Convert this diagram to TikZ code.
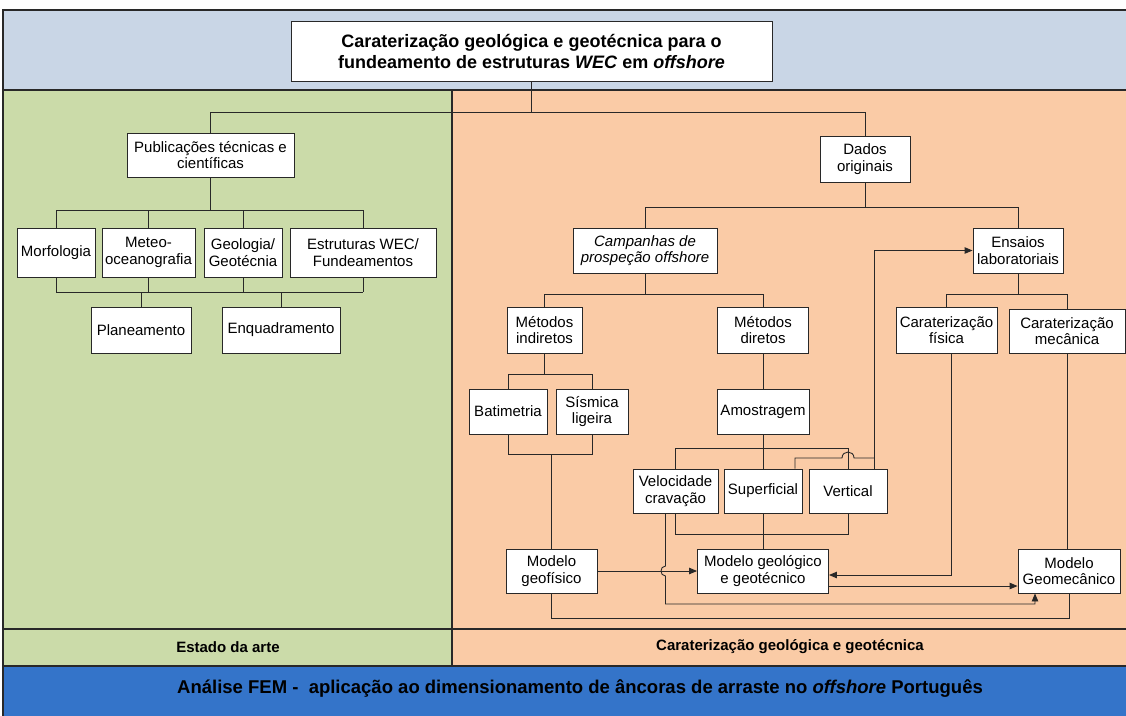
\documentclass[tikz,border=0pt]{standalone}
\usepackage{fontspec}
\setmainfont{Liberation Sans}
\usetikzlibrary{arrows.meta}
\definecolor{topblue}{RGB}{201,214,230}
\definecolor{panelgreen}{RGB}{203,219,169}
\definecolor{panelorange}{RGB}{250,203,166}
\definecolor{botblue}{RGB}{52,116,201}
\definecolor{edge}{RGB}{40,40,40}
\begin{document}
\begin{tikzpicture}[x=1pt,y=-1pt,
  bx/.style={draw=edge,line width=0.9pt,fill=white,align=center,inner sep=0pt,
    font=\fontsize{15}{16.5}\selectfont},
  ln/.style={draw=edge,line width=0.9pt},
  arr/.style={ln,-{Triangle[length=8pt,width=6.5pt]}},
  band/.style={draw=edge,line width=1.2pt}]
\useasboundingbox (0,0) rectangle (1126,715);
% bands
\fill[white] (0,0) rectangle (1126,715);
\draw[band,fill=topblue] (3,10) rectangle (1130,90);
\draw[band,fill=panelgreen] (3,90) rectangle (452,629);
\draw[band,fill=panelorange] (452,90) rectangle (1130,629);
\draw[band,fill=panelgreen] (3,629) rectangle (452,666);
\draw[band,fill=panelorange] (452,629) rectangle (1130,666);
\draw[band,fill=botblue] (3,666) rectangle (1130,720);
\node[font=\fontsize{15}{17}\selectfont\bfseries] (lblA) at (228,647) {Estado da arte};
\node[font=\fontsize{15}{17}\selectfont\bfseries] (lblB) at (790,647) {Caraterização geológica e geotécnica};
\node[font=\fontsize{18.5}{21}\selectfont\bfseries] (lblC) at (580,689) {Análise FEM -\ \ aplicação ao dimensionamento de âncoras de arraste no \textit{offshore} Português};
% level coordinates
\coordinate (yA) at (0,112);
\coordinate (yB) at (0,210);
\coordinate (yC) at (0,292);
\coordinate (yD) at (0,207);
\coordinate (yE) at (0,294);
\coordinate (yF) at (0,374);
\coordinate (yG) at (0,454);
\coordinate (yH) at (0,448);
\coordinate (yI) at (0,458);
\coordinate (yJ) at (0,534);
\coordinate (yK) at (0,604);
\coordinate (yL) at (0,618);
\coordinate (yM) at (0,575);
\coordinate (yN) at (0,586);
% nodes
\node[bx,minimum width=481,minimum height=60,font=\fontsize{18}{21}\selectfont\bfseries] (title) at (531.5,51)
  {Caraterização geológica e geotécnica para o\\fundeamento de estruturas \textit{WEC} em \textit{offshore}};
\node[bx,minimum width=167,minimum height=44] (pub) at (210.5,155) {Publicações técnicas e\\científicas};
\node[bx,minimum width=78,minimum height=49] (morf) at (56,252.5) {Morfologia};
\node[bx,minimum width=93,minimum height=49] (meteo) at (148.5,252.5) {Meteo-\\oceanografia};
\node[bx,minimum width=78,minimum height=49] (geol) at (243,252.5) {Geologia/\\Geotécnia};
\node[bx,minimum width=146,minimum height=49] (estr) at (363,252.5) {Estruturas WEC/\\Fundeamentos};
\node[bx,minimum width=100,minimum height=46] (plan) at (141,330) {Planeamento};
\node[bx,minimum width=118,minimum height=46] (enq) at (281,330) {Enquadramento};
\node[bx,minimum width=90,minimum height=46] (dados) at (865,159) {Dados\\originais};
\node[bx,minimum width=144,minimum height=45,font=\fontsize{15}{16.5}\selectfont\itshape] (camp) at (645,250.5) {Campanhas de\\prospeção offshore};
\node[bx,minimum width=90,minimum height=45] (ens) at (1018,250.5) {Ensaios\\laboratoriais};
\node[bx,minimum width=75,minimum height=46] (mind) at (544.5,330) {Métodos\\indiretos};
\node[bx,minimum width=91,minimum height=46] (mdir) at (763,330) {Métodos\\diretos};
\node[bx,minimum width=101,minimum height=46] (cfis) at (946.5,330) {Caraterização\\física};
\node[bx,minimum width=116,minimum height=44] (cmec) at (1067,331) {Caraterização\\mecânica};
\node[bx,minimum width=78,minimum height=45] (bat) at (508,411.5) {Batimetria};
\node[bx,minimum width=72,minimum height=45] (sis) at (592,411.5) {Sísmica\\ligeira};
\node[bx,minimum width=92,minimum height=45] (amos) at (763,411.5) {Amostragem};
\node[bx,minimum width=85,minimum height=44] (vel) at (675.5,491) {Velocidade\\cravação};
\node[bx,minimum width=78,minimum height=44] (sup) at (763,491) {Superficial};
\node[bx,minimum width=78,minimum height=44] (vert) at (848,491) {Vertical};
\node[bx,minimum width=91,minimum height=44] (geof) at (551.5,571) {Modelo\\geofísico};
\node[bx,minimum width=131,minimum height=44] (mgg) at (763,571) {Modelo geológico\\e geotécnico};
\node[bx,minimum width=102,minimum height=44] (geom) at (1069,571) {Modelo\\Geomecânico};
% top connectors
\draw[ln] (title.south) -- (title.south |- yA);
\draw[ln] (pub.north) -- (pub.north |- yA) -- (dados.north |- yA) -- (dados.north);
% left tree
\draw[ln] (pub.south) -- (pub.south |- yB);
\draw[ln] (morf.north |- yB) -- (estr.north |- yB);
\foreach \n in {morf,meteo,geol,estr} {
  \draw[ln] (\n.north) -- (\n.north |- yB);
  \draw[ln] (\n.south) -- (\n.south |- yC);
}
\draw[ln] (morf.south |- yC) -- (estr.south |- yC);
\draw[ln] (plan.north) -- (plan.north |- yC);
\draw[ln] (enq.north) -- (enq.north |- yC);
% right tree
\draw[ln] (dados.south) -- (dados.south |- yD);
\draw[ln] (camp.north) -- (camp.north |- yD) -- (ens.north |- yD) -- (ens.north);
\draw[ln] (camp.south) -- (camp.south |- yE);
\draw[ln] (mind.north) -- (mind.north |- yE) -- (mdir.north |- yE) -- (mdir.north);
\draw[ln] (ens.south) -- (ens.south |- yE);
\draw[ln] (cfis.north) -- (cfis.north |- yE) -- (cmec.north |- yE) -- (cmec.north);
\draw[ln] (mind.south) -- (mind.south |- yF);
\draw[ln] (bat.north) -- (bat.north |- yF) -- (sis.north |- yF) -- (sis.north);
\draw[ln] (bat.south) -- (bat.south |- yG) -- (sis.south |- yG) -- (sis.south);
\draw[ln] (geof.north) -- (geof.north |- yG);
\draw[ln] (mdir.south) -- (amos.north);
\draw[ln] (amos.south) -- (sup.north);
\draw[ln] (vel.north) -- (vel.north |- yH) -- (vert.north |- yH) -- (vert.north);
% Superficial / Vertical -> Ensaios
\coordinate (hopL) at ([xshift=-6pt]vert.north |- yI);
\coordinate (hopR) at ([xshift=6pt]vert.north |- yI);
\draw[ln] ([xshift=32pt]sup.north) -- ([xshift=32pt]sup.north |- yI) -- (hopL)
  .. controls ([yshift=8pt]hopL) and ([yshift=8pt]hopR) .. (hopR)
  -- ([xshift=26pt]vert.north |- yI);
\draw[arr] ([xshift=26pt]vert.north) -- ([xshift=26pt]vert.north |- ens.west) -- (ens.west);
% bottom part
\draw[ln] (vel.south) -- (vel.south |- yJ) -- (vert.south |- yJ) -- (vert.south);
\draw[ln] (sup.south) -- (mgg.north);
\coordinate (vA) at ([xshift=-10pt,yshift=5pt]vel.south |- geof.east);
\coordinate (vB) at ([xshift=-10pt,yshift=-5pt]vel.south |- geof.east);
\draw[arr] ([xshift=-10pt]vel.south) -- (vA)
  .. controls ([xshift=-6pt]vA) and ([xshift=-6pt]vB) .. (vB)
  -- ([xshift=-10pt]vel.south |- yK) -- ([xshift=-34pt]geom.south |- yK) -- ([xshift=-34pt]geom.south);
\draw[arr] (geof.east) -- (mgg.west);
\draw[arr] ([xshift=5pt]cfis.south) -- ([xshift=5pt]cfis.south |- yM) -- (mgg.east |- yM);
\draw[arr] (mgg.east |- yN) -- (geom.west |- yN);
\draw[ln] (cmec.south) -- (cmec.south |- geom.north);
\draw[ln] (geof.south) -- (geof.south |- yL) -- (geom.south |- yL) -- (geom.south);
\end{tikzpicture}
\end{document}
